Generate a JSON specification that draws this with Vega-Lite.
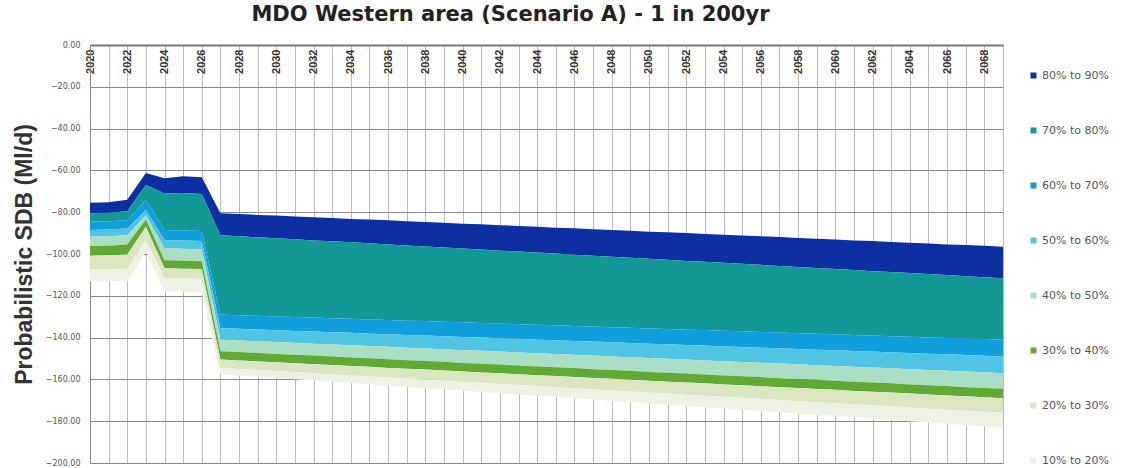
{
  "$schema": "https://vega.github.io/schema/vega-lite/v6.json",
  "autosize": "none",
  "padding": {"left": 90, "top": 45, "right": 119, "bottom": 5},
  "width": 913,
  "height": 418,
  "background": "white",
  "title": {
    "text": "MDO Western area (Scenario A) - 1 in 200yr",
    "font": "DejaVu Sans",
    "fontSize": 21,
    "fontWeight": "bold",
    "color": "#222222",
    "anchor": "middle",
    "dx": -36,
    "offset": 16
  },
  "data": {
    "values": [
      {"year": 2020, "b90": -75.5, "b80": -80.5, "b70": -84.5, "b60": -88.5, "b50": -91.7, "b40": -96.2, "b30": -100.8, "b20": -107.5, "b10": -113.2},
      {"year": 2021, "b90": -75.2, "b80": -80.3, "b70": -84.3, "b60": -88.3, "b50": -91.5, "b40": -96.0, "b30": -100.6, "b20": -107.3, "b10": -113.0},
      {"year": 2022, "b90": -74.0, "b80": -79.5, "b70": -83.8, "b60": -87.8, "b50": -91.0, "b40": -95.5, "b30": -100.2, "b20": -107.0, "b10": -113.0},
      {"year": 2023, "b90": -61.3, "b80": -67.0, "b70": -74.0, "b60": -79.0, "b50": -81.5, "b40": -83.5, "b30": -87.0, "b20": -93.3, "b10": -99.0},
      {"year": 2024, "b90": -63.8, "b80": -71.0, "b70": -88.5, "b60": -93.3, "b50": -97.3, "b40": -103.0, "b30": -106.8, "b20": -111.5, "b10": -118.0},
      {"year": 2025, "b90": -62.8, "b80": -70.8, "b70": -88.7, "b60": -93.5, "b50": -97.5, "b40": -103.2, "b30": -107.0, "b20": -111.7, "b10": -118.0},
      {"year": 2026, "b90": -63.3, "b80": -71.3, "b70": -89.0, "b60": -93.8, "b50": -97.8, "b40": -103.5, "b30": -107.2, "b20": -112.0, "b10": -118.5},
      {"year": 2027, "b90": -80.5, "b80": -91.0, "b70": -129.0, "b60": -135.5, "b50": -141.0, "b40": -146.5, "b30": -150.5, "b20": -154.5, "b10": -157.5},
      {"year": 2028, "b90": -80.9, "b80": -91.5, "b70": -129.3, "b60": -135.8, "b50": -141.4, "b40": -146.9, "b30": -150.9, "b20": -155.0, "b10": -158.1},
      {"year": 2029, "b90": -81.3, "b80": -92.0, "b70": -129.6, "b60": -136.1, "b50": -141.8, "b40": -147.4, "b30": -151.4, "b20": -155.5, "b10": -158.7},
      {"year": 2030, "b90": -81.6, "b80": -92.5, "b70": -129.9, "b60": -136.5, "b50": -142.1, "b40": -147.8, "b30": -151.8, "b20": -156.0, "b10": -159.3},
      {"year": 2031, "b90": -82.0, "b80": -93.0, "b70": -130.1, "b60": -136.8, "b50": -142.5, "b40": -148.2, "b30": -152.3, "b20": -156.5, "b10": -159.9},
      {"year": 2032, "b90": -82.4, "b80": -93.5, "b70": -130.4, "b60": -137.1, "b50": -142.9, "b40": -148.6, "b30": -152.7, "b20": -157.1, "b10": -160.5},
      {"year": 2033, "b90": -82.8, "b80": -93.9, "b70": -130.7, "b60": -137.4, "b50": -143.3, "b40": -149.1, "b30": -153.1, "b20": -157.6, "b10": -161.1},
      {"year": 2034, "b90": -83.2, "b80": -94.4, "b70": -131.0, "b60": -137.7, "b50": -143.7, "b40": -149.5, "b30": -153.6, "b20": -158.1, "b10": -161.7},
      {"year": 2035, "b90": -83.5, "b80": -94.9, "b70": -131.3, "b60": -138.1, "b50": -144.0, "b40": -149.9, "b30": -154.0, "b20": -158.6, "b10": -162.4},
      {"year": 2036, "b90": -83.9, "b80": -95.4, "b70": -131.6, "b60": -138.4, "b50": -144.4, "b40": -150.4, "b30": -154.5, "b20": -159.1, "b10": -163.0},
      {"year": 2037, "b90": -84.3, "b80": -95.9, "b70": -131.9, "b60": -138.7, "b50": -144.8, "b40": -150.8, "b30": -154.9, "b20": -159.6, "b10": -163.6},
      {"year": 2038, "b90": -84.7, "b80": -96.4, "b70": -132.1, "b60": -139.0, "b50": -145.2, "b40": -151.2, "b30": -155.3, "b20": -160.1, "b10": -164.2},
      {"year": 2039, "b90": -85.1, "b80": -96.9, "b70": -132.4, "b60": -139.4, "b50": -145.6, "b40": -151.6, "b30": -155.8, "b20": -160.6, "b10": -164.8},
      {"year": 2040, "b90": -85.5, "b80": -97.4, "b70": -132.7, "b60": -139.7, "b50": -146.0, "b40": -152.1, "b30": -156.2, "b20": -161.2, "b10": -165.4},
      {"year": 2041, "b90": -85.8, "b80": -97.9, "b70": -133.0, "b60": -140.0, "b50": -146.3, "b40": -152.5, "b30": -156.7, "b20": -161.7, "b10": -166.0},
      {"year": 2042, "b90": -86.2, "b80": -98.4, "b70": -133.3, "b60": -140.3, "b50": -146.7, "b40": -152.9, "b30": -157.1, "b20": -162.2, "b10": -166.6},
      {"year": 2043, "b90": -86.6, "b80": -98.8, "b70": -133.6, "b60": -140.6, "b50": -147.1, "b40": -153.4, "b30": -157.5, "b20": -162.7, "b10": -167.2},
      {"year": 2044, "b90": -87.0, "b80": -99.3, "b70": -133.9, "b60": -141.0, "b50": -147.5, "b40": -153.8, "b30": -158.0, "b20": -163.2, "b10": -167.8},
      {"year": 2045, "b90": -87.4, "b80": -99.8, "b70": -134.1, "b60": -141.3, "b50": -147.9, "b40": -154.2, "b30": -158.4, "b20": -163.7, "b10": -168.4},
      {"year": 2046, "b90": -87.7, "b80": -100.3, "b70": -134.4, "b60": -141.6, "b50": -148.2, "b40": -154.6, "b30": -158.9, "b20": -164.2, "b10": -169.0},
      {"year": 2047, "b90": -88.1, "b80": -100.8, "b70": -134.7, "b60": -141.9, "b50": -148.6, "b40": -155.1, "b30": -159.3, "b20": -164.7, "b10": -169.6},
      {"year": 2048, "b90": -88.5, "b80": -101.3, "b70": -135.0, "b60": -142.2, "b50": -149.0, "b40": -155.5, "b30": -159.7, "b20": -165.3, "b10": -170.2},
      {"year": 2049, "b90": -88.9, "b80": -101.8, "b70": -135.3, "b60": -142.6, "b50": -149.4, "b40": -155.9, "b30": -160.2, "b20": -165.8, "b10": -170.9},
      {"year": 2050, "b90": -89.3, "b80": -102.3, "b70": -135.6, "b60": -142.9, "b50": -149.8, "b40": -156.4, "b30": -160.6, "b20": -166.3, "b10": -171.5},
      {"year": 2051, "b90": -89.6, "b80": -102.8, "b70": -135.9, "b60": -143.2, "b50": -150.1, "b40": -156.8, "b30": -161.1, "b20": -166.8, "b10": -172.1},
      {"year": 2052, "b90": -90.0, "b80": -103.3, "b70": -136.2, "b60": -143.5, "b50": -150.5, "b40": -157.2, "b30": -161.5, "b20": -167.3, "b10": -172.7},
      {"year": 2053, "b90": -90.4, "b80": -103.7, "b70": -136.4, "b60": -143.8, "b50": -150.9, "b40": -157.7, "b30": -161.9, "b20": -167.8, "b10": -173.3},
      {"year": 2054, "b90": -90.8, "b80": -104.2, "b70": -136.7, "b60": -144.2, "b50": -151.3, "b40": -158.1, "b30": -162.4, "b20": -168.3, "b10": -173.9},
      {"year": 2055, "b90": -91.2, "b80": -104.7, "b70": -137.0, "b60": -144.5, "b50": -151.7, "b40": -158.5, "b30": -162.8, "b20": -168.8, "b10": -174.5},
      {"year": 2056, "b90": -91.5, "b80": -105.2, "b70": -137.3, "b60": -144.8, "b50": -152.0, "b40": -158.9, "b30": -163.3, "b20": -169.3, "b10": -175.1},
      {"year": 2057, "b90": -91.9, "b80": -105.7, "b70": -137.6, "b60": -145.1, "b50": -152.4, "b40": -159.4, "b30": -163.7, "b20": -169.9, "b10": -175.7},
      {"year": 2058, "b90": -92.3, "b80": -106.2, "b70": -137.9, "b60": -145.5, "b50": -152.8, "b40": -159.8, "b30": -164.1, "b20": -170.4, "b10": -176.3},
      {"year": 2059, "b90": -92.7, "b80": -106.7, "b70": -138.2, "b60": -145.8, "b50": -153.2, "b40": -160.2, "b30": -164.6, "b20": -170.9, "b10": -176.9},
      {"year": 2060, "b90": -93.1, "b80": -107.2, "b70": -138.4, "b60": -146.1, "b50": -153.6, "b40": -160.7, "b30": -165.0, "b20": -171.4, "b10": -177.5},
      {"year": 2061, "b90": -93.5, "b80": -107.7, "b70": -138.7, "b60": -146.4, "b50": -154.0, "b40": -161.1, "b30": -165.5, "b20": -171.9, "b10": -178.1},
      {"year": 2062, "b90": -93.8, "b80": -108.2, "b70": -139.0, "b60": -146.7, "b50": -154.3, "b40": -161.5, "b30": -165.9, "b20": -172.4, "b10": -178.7},
      {"year": 2063, "b90": -94.2, "b80": -108.6, "b70": -139.3, "b60": -147.1, "b50": -154.7, "b40": -161.9, "b30": -166.3, "b20": -172.9, "b10": -179.4},
      {"year": 2064, "b90": -94.6, "b80": -109.1, "b70": -139.6, "b60": -147.4, "b50": -155.1, "b40": -162.4, "b30": -166.8, "b20": -173.4, "b10": -180.0},
      {"year": 2065, "b90": -95.0, "b80": -109.6, "b70": -139.9, "b60": -147.7, "b50": -155.5, "b40": -162.8, "b30": -167.2, "b20": -174.0, "b10": -180.6},
      {"year": 2066, "b90": -95.4, "b80": -110.1, "b70": -140.2, "b60": -148.0, "b50": -155.9, "b40": -163.2, "b30": -167.7, "b20": -174.5, "b10": -181.2},
      {"year": 2067, "b90": -95.7, "b80": -110.6, "b70": -140.4, "b60": -148.3, "b50": -156.2, "b40": -163.7, "b30": -168.1, "b20": -175.0, "b10": -181.8},
      {"year": 2068, "b90": -96.1, "b80": -111.1, "b70": -140.7, "b60": -148.7, "b50": -156.6, "b40": -164.1, "b30": -168.5, "b20": -175.5, "b10": -182.4},
      {"year": 2069, "b90": -96.5, "b80": -111.6, "b70": -141.0, "b60": -149.0, "b50": -157.0, "b40": -164.5, "b30": -169.0, "b20": -176.0, "b10": -183.0}
    ]
  },
  "encoding": {
    "x": {
      "field": "year",
      "type": "quantitative",
      "scale": {"domain": [2020, 2069], "nice": false, "zero": false},
      "axis": {
        "orient": "top",
        "title": null,
        "values": [2020,2021,2022,2023,2024,2025,2026,2027,2028,2029,2030,2031,2032,2033,2034,2035,2036,2037,2038,2039,2040,2041,2042,2043,2044,2045,2046,2047,2048,2049,2050,2051,2052,2053,2054,2055,2056,2057,2058,2059,2060,2061,2062,2063,2064,2065,2066,2067,2068,2069],
        "labelExpr": "datum.value % 2 == 0 ? format(datum.value, 'd') : ''",
        "labelAngle": -90,
        "labelAlign": "right",
        "labelBaseline": "middle",
        "labelPadding": -4,
        "labelOverlap": false,
        "labelFont": "Liberation Sans",
        "labelFontSize": 11,
        "labelFontWeight": "bold",
        "labelColor": "#333333",
        "ticks": false,
        "grid": true,
        "gridColor": "#b8b8b8",
        "gridWidth": 1,
        "domainColor": "#777777",
        "domainWidth": 2
      }
    }
  },
  "layer": [
    {
      "mark": {"type": "area", "interpolate": "linear"},
      "encoding": {
        "y": {"field": "b90", "type": "quantitative", "title": "Probabilistic SDB (Ml/d)", "scale": {"domain": [-200, 0], "nice": false}},
        "y2": {"field": "b80"},
        "color": {"datum": "80% to 90%", "type": "nominal", "scale": {"domain": ["80% to 90%", "70% to 80%", "60% to 70%", "50% to 60%", "40% to 50%", "30% to 40%", "20% to 30%", "10% to 20%"], "range": ["#0d2fa2", "#139896", "#0f9fdd", "#50c4e4", "#aadfc6", "#5fa934", "#d9e6c0", "#eef2e4"]}}
      }
    },
    {
      "mark": {"type": "area", "interpolate": "linear"},
      "encoding": {
        "y": {"field": "b80", "type": "quantitative", "title": "Probabilistic SDB (Ml/d)", "scale": {"domain": [-200, 0], "nice": false}},
        "y2": {"field": "b70"},
        "color": {"datum": "70% to 80%", "type": "nominal", "scale": {"domain": ["80% to 90%", "70% to 80%", "60% to 70%", "50% to 60%", "40% to 50%", "30% to 40%", "20% to 30%", "10% to 20%"], "range": ["#0d2fa2", "#139896", "#0f9fdd", "#50c4e4", "#aadfc6", "#5fa934", "#d9e6c0", "#eef2e4"]}}
      }
    },
    {
      "mark": {"type": "area", "interpolate": "linear"},
      "encoding": {
        "y": {"field": "b70", "type": "quantitative", "title": "Probabilistic SDB (Ml/d)", "scale": {"domain": [-200, 0], "nice": false}},
        "y2": {"field": "b60"},
        "color": {"datum": "60% to 70%", "type": "nominal", "scale": {"domain": ["80% to 90%", "70% to 80%", "60% to 70%", "50% to 60%", "40% to 50%", "30% to 40%", "20% to 30%", "10% to 20%"], "range": ["#0d2fa2", "#139896", "#0f9fdd", "#50c4e4", "#aadfc6", "#5fa934", "#d9e6c0", "#eef2e4"]}}
      }
    },
    {
      "mark": {"type": "area", "interpolate": "linear"},
      "encoding": {
        "y": {"field": "b60", "type": "quantitative", "title": "Probabilistic SDB (Ml/d)", "scale": {"domain": [-200, 0], "nice": false}},
        "y2": {"field": "b50"},
        "color": {"datum": "50% to 60%", "type": "nominal", "scale": {"domain": ["80% to 90%", "70% to 80%", "60% to 70%", "50% to 60%", "40% to 50%", "30% to 40%", "20% to 30%", "10% to 20%"], "range": ["#0d2fa2", "#139896", "#0f9fdd", "#50c4e4", "#aadfc6", "#5fa934", "#d9e6c0", "#eef2e4"]}}
      }
    },
    {
      "mark": {"type": "area", "interpolate": "linear"},
      "encoding": {
        "y": {"field": "b50", "type": "quantitative", "title": "Probabilistic SDB (Ml/d)", "scale": {"domain": [-200, 0], "nice": false}},
        "y2": {"field": "b40"},
        "color": {"datum": "40% to 50%", "type": "nominal", "scale": {"domain": ["80% to 90%", "70% to 80%", "60% to 70%", "50% to 60%", "40% to 50%", "30% to 40%", "20% to 30%", "10% to 20%"], "range": ["#0d2fa2", "#139896", "#0f9fdd", "#50c4e4", "#aadfc6", "#5fa934", "#d9e6c0", "#eef2e4"]}}
      }
    },
    {
      "mark": {"type": "area", "interpolate": "linear"},
      "encoding": {
        "y": {"field": "b40", "type": "quantitative", "title": "Probabilistic SDB (Ml/d)", "scale": {"domain": [-200, 0], "nice": false}},
        "y2": {"field": "b30"},
        "color": {"datum": "30% to 40%", "type": "nominal", "scale": {"domain": ["80% to 90%", "70% to 80%", "60% to 70%", "50% to 60%", "40% to 50%", "30% to 40%", "20% to 30%", "10% to 20%"], "range": ["#0d2fa2", "#139896", "#0f9fdd", "#50c4e4", "#aadfc6", "#5fa934", "#d9e6c0", "#eef2e4"]}}
      }
    },
    {
      "mark": {"type": "area", "interpolate": "linear"},
      "encoding": {
        "y": {"field": "b30", "type": "quantitative", "title": "Probabilistic SDB (Ml/d)", "scale": {"domain": [-200, 0], "nice": false}},
        "y2": {"field": "b20"},
        "color": {"datum": "20% to 30%", "type": "nominal", "scale": {"domain": ["80% to 90%", "70% to 80%", "60% to 70%", "50% to 60%", "40% to 50%", "30% to 40%", "20% to 30%", "10% to 20%"], "range": ["#0d2fa2", "#139896", "#0f9fdd", "#50c4e4", "#aadfc6", "#5fa934", "#d9e6c0", "#eef2e4"]}}
      }
    },
    {
      "mark": {"type": "area", "interpolate": "linear"},
      "encoding": {
        "y": {"field": "b20", "type": "quantitative", "title": "Probabilistic SDB (Ml/d)", "scale": {"domain": [-200, 0], "nice": false}},
        "y2": {"field": "b10"},
        "color": {"datum": "10% to 20%", "type": "nominal", "scale": {"domain": ["80% to 90%", "70% to 80%", "60% to 70%", "50% to 60%", "40% to 50%", "30% to 40%", "20% to 30%", "10% to 20%"], "range": ["#0d2fa2", "#139896", "#0f9fdd", "#50c4e4", "#aadfc6", "#5fa934", "#d9e6c0", "#eef2e4"]}}
      }
    }
  ],
  "config": {
    "view": {"stroke": "#999999", "strokeWidth": 1},
    "axisY": {
      "values": [0, -20, -40, -60, -80, -100, -120, -140, -160, -180, -200],
      "format": ".2f",
      "labelFont": "DejaVu Sans",
      "labelFontSize": 8,
      "labelColor": "#555555",
      "labelPadding": 10,
      "ticks": false,
      "grid": true,
      "gridColor": "#8a8a8a",
      "gridWidth": 1,
      "domainColor": "#888888",
      "titleFont": "Liberation Sans",
      "titleFontSize": 23,
      "titleFontWeight": "bold",
      "titleColor": "#333333",
      "titlePadding": 9
    },
    "legend": {
      "orient": "none",
      "legendX": 938,
      "legendY": 25,
      "title": null,
      "symbolType": "square",
      "symbolSize": 36,
      "symbolStrokeWidth": 0,
      "labelFont": "DejaVu Sans",
      "labelFontSize": 11,
      "labelColor": "#555555",
      "labelOffset": 3,
      "rowPadding": 43
    }
  }
}
